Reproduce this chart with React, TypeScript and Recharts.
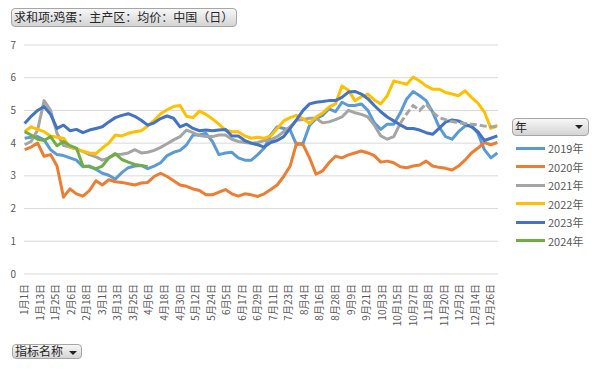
import React from "react";
import { LineChart, Line, XAxis, YAxis, CartesianGrid } from "recharts";

// day of year (0 = 1月1日), sampled every 5 days
const days = [
  0, 5, 10, 15, 20, 25, 30, 35, 40, 45,
  50, 55, 60, 65, 70, 75, 80, 85, 90, 95,
  100, 105, 110, 115, 120, 125, 130, 135, 140, 145,
  150, 155, 160, 165, 170, 175, 180, 185, 190, 195,
  200, 205, 210, 215, 220, 225, 230, 235, 240, 245,
  250, 255, 260, 265, 270, 275, 280, 285, 290, 295,
  300, 305, 310, 315, 320, 325, 330, 335, 340, 345,
  350, 355, 360, 365,
];

const tickDays = [
  0, 12, 24, 36, 48, 60, 72, 84, 96, 108, 120, 132, 144, 156, 168, 180,
  192, 204, 216, 228, 240, 252, 264, 276, 288, 300, 312, 324, 336, 348, 360,
];
const tickLabels = [
  "1月1日", "1月13日", "1月25日", "2月6日", "2月18日", "3月1日", "3月13日", "3月25日",
  "4月6日", "4月18日", "4月30日", "5月12日", "5月24日", "6月5日", "6月17日", "6月29日",
  "7月11日", "7月23日", "8月4日", "8月16日", "8月28日", "9月9日", "9月21日", "10月3日",
  "10月15日", "10月27日", "11月8日", "11月20日", "12月2日", "12月14日", "12月26日",
];
const yTicks = [0, 1, 2, 3, 4, 5, 6, 7];

const years = ["2019年", "2020年", "2021年", "2022年", "2023年", "2024年"];
const colors = ["#5B9BD5", "#ED7D31", "#A5A5A5", "#FFC000", "#4472C4", "#70AD47"];

const v2019 = [
  4.15, 4.18, 4.2, 4.1, 3.8, 3.65, 3.62, 3.55, 3.48, 3.28,
  3.3, 3.2, 3.08, 3.02, 2.9, 3.1, 3.25, 3.3, 3.32, 3.22,
  3.3, 3.4, 3.62, 3.72, 3.78, 3.95, 4.25, 4.25, 4.3, 4.05,
  3.65, 3.7, 3.72, 3.55, 3.48, 3.48, 3.65, 3.85, 4.25, 4.5,
  4.45, 4.4, 3.95, 4.0, 4.55, 4.75, 4.85, 5.05, 4.96, 5.25,
  5.15, 5.15, 5.2, 5.0, 4.62, 4.42, 4.58, 4.58, 4.92, 5.35,
  5.58, 5.45, 5.3, 4.95, 4.5, 4.2, 4.12, 4.35, 4.52, 4.55,
  4.3, 3.8, 3.55, 3.7,
];
const v2020 = [
  3.8, 3.88, 4.0, 3.6, 3.65, 3.3, 2.35, 2.6, 2.45, 2.38,
  2.55, 2.85, 2.72, 2.88, 2.82, 2.8, 2.76, 2.72, 2.78, 2.8,
  2.98, 3.08, 2.98, 2.85, 2.72, 2.68, 2.6, 2.55, 2.42, 2.42,
  2.5, 2.58, 2.45, 2.38, 2.45, 2.42, 2.37, 2.45, 2.58, 2.72,
  2.98, 3.3, 4.0, 3.95, 3.55, 3.05, 3.15, 3.4, 3.6, 3.55,
  3.64, 3.7, 3.76, 3.7, 3.62, 3.42, 3.45, 3.4, 3.28, 3.25,
  3.3, 3.33, 3.45, 3.3, 3.26, 3.23, 3.18, 3.3, 3.48, 3.7,
  3.85, 4.02, 3.95, 4.02,
];
const v2021 = [
  3.95, 4.05, 4.4, 5.3, 5.0, 4.3, 3.93, 3.88, 3.82, 3.75,
  3.65, 3.58, 3.48, 3.55, 3.65, 3.66, 3.7, 3.8, 3.7, 3.72,
  3.78, 3.87, 3.98, 4.1, 4.2, 4.4, 4.32, 4.23, 4.2, 4.2,
  4.25, 4.25, 4.12, 4.05, 4.02, 4.0, 4.02, 4.08, 4.1, 4.2,
  4.35, 4.5, 4.7, 4.72, 4.76, 4.76, 4.62, 4.65, 4.72, 4.8,
  5.0, 4.93, 4.88, 4.8, 4.55, 4.22, 4.12, 4.2, 4.6, 4.9,
  5.15, 5.0, 5.2, 4.95, 4.78, 4.72, 4.66, 4.62, 4.6, 4.58,
  4.56, 4.52, 4.5, 4.5,
];
const v2022 = [
  4.35, 4.5, 4.42, 4.35, 4.22, 4.18, 4.15, 3.88, 3.82, 3.75,
  3.7, 3.68, 3.85, 4.0, 4.25, 4.22, 4.3, 4.35, 4.38, 4.52,
  4.7, 4.9, 5.02, 5.12, 5.15, 4.82, 4.78, 4.98, 4.88, 4.74,
  4.58, 4.4, 4.35, 4.35, 4.22, 4.15, 4.18, 4.15, 4.22, 4.45,
  4.68, 4.78, 4.85, 4.75, 4.6, 4.8, 4.92, 5.1, 5.2, 5.75,
  5.62, 5.3, 5.42, 5.5, 5.32, 5.2, 5.45, 5.9, 5.85, 5.8,
  6.02, 5.9, 5.75, 5.65, 5.65, 5.55, 5.5, 5.45, 5.6, 5.4,
  5.22, 4.95, 4.45, 4.55,
];
const v2023 = [
  4.6, 4.82, 5.0, 5.12, 4.88, 4.45, 4.55, 4.38, 4.42, 4.32,
  4.4, 4.45, 4.5, 4.65, 4.78, 4.85, 4.9, 4.82, 4.7, 4.55,
  4.62, 4.75, 4.83, 4.76, 4.5, 4.58, 4.45, 4.38, 4.4, 4.38,
  4.4, 4.42, 4.22, 4.22, 4.08, 4.0, 3.95, 3.88, 4.02, 4.08,
  4.2, 4.45, 4.72, 5.0, 5.2, 5.25, 5.27, 5.3, 5.3, 5.4,
  5.56, 5.58, 5.5, 5.36, 5.15, 4.96, 4.8, 4.68, 4.56, 4.45,
  4.45, 4.4, 4.32, 4.27, 4.45, 4.64, 4.71, 4.68, 4.58, 4.5,
  4.35, 4.08, 4.15, 4.22,
];
const v2024 = [
  4.35, 4.25, 4.12, 4.08, 4.2, 3.92, 4.05, 3.92, 3.85, 3.3,
  3.28, 3.22, 3.3, 3.55, 3.68, 3.5, 3.42, 3.35, 3.32, 3.28,
];

// 2021 turns dashed in the last quarter (gaps in the source data)
const dashFrom = 290;

const data = days.map((d, i) => ({
  day: d,
  y2019: v2019[i],
  y2020: v2020[i],
  y2021: d <= dashFrom ? v2021[i] : null,
  y2021d: d >= dashFrom ? v2021[i] : null,
  y2022: v2022[i],
  y2023: v2023[i],
  y2024: i < v2024.length ? v2024[i] : null,
}));

const seriesKeys = ["y2019", "y2020", "y2021", "y2022", "y2023", "y2024"];

const XTick = ({ x, y, payload }: any) => (
  <text
    transform={`translate(${x},${y + 2}) rotate(-90)`}
    textAnchor="end"
    dy="0.35em"
    fontSize={10}
    fill="#595959"
  >
    {tickLabels[tickDays.indexOf(payload.value)]}
  </text>
);

const btn: React.CSSProperties = {
  position: "absolute",
  boxSizing: "border-box",
  background: "linear-gradient(#f7f7f7, #d4d4d4)",
  border: "1px solid #a6a6a6",
  borderRadius: 4,
  color: "#262626",
  fontSize: 12,
  lineHeight: "16px",
  paddingLeft: 2,
  whiteSpace: "nowrap",
};

const Arrow = ({ right }: { right: number }) => (
  <span
    style={{
      position: "absolute",
      right,
      top: 6,
      width: 0,
      height: 0,
      borderLeft: "4px solid transparent",
      borderRight: "4px solid transparent",
      borderTop: "4px solid #222",
    }}
  />
);

export default function App() {
  return (
    <div
      style={{
        position: "absolute",
        left: 0,
        top: 0,
        width: 596,
        height: 369,
        background: "#fff",
        fontFamily: '"Noto Sans CJK SC", "Noto Sans", sans-serif',
      }}
    >
      <LineChart
        width={596}
        height={369}
        data={data}
        margin={{ top: 45, right: 98, bottom: 0, left: 0 }}
      >
        <CartesianGrid vertical={false} stroke="#D9D9D9" />
        <XAxis
          dataKey="day"
          type="number"
          domain={[-0.5, 365.5]}
          ticks={tickDays}
          interval={0}
          tick={(p: any) => <XTick {...p} />}
          tickLine={false}
          axisLine={false}
          height={95}
        />
        <YAxis
          type="number"
          domain={[0, 7]}
          ticks={yTicks}
          width={24}
          tickLine={false}
          axisLine={false}
          tick={{ fontSize: 10, fill: "#595959" }}
        />
        {seriesKeys.map((k, i) => (
          <Line
            key={k}
            dataKey={k}
            stroke={colors[i]}
            strokeWidth={3}
            dot={false}
            type="linear"
            isAnimationActive={false}
            strokeLinejoin="round"
          />
        ))}
        <Line
          dataKey="y2021d"
          stroke={colors[2]}
          strokeWidth={3}
          strokeDasharray="7 3"
          dot={false}
          type="linear"
          isAnimationActive={false}
        />
      </LineChart>

      <div style={{ ...btn, left: 11, top: 8, width: 226, height: 19 }}>
        求和项:鸡蛋：主产区：均价：中国（日）
      </div>

      <div style={{ ...btn, left: 512, top: 118, width: 77, height: 18 }}>
        年
        <Arrow right={5} />
      </div>

      {years.map((name, i) => (
        <div
          key={name}
          style={{
            position: "absolute",
            left: 516,
            top: 139 + i * 18.5,
            height: 18,
            display: "flex",
            alignItems: "center",
            fontSize: 11,
            color: "#595959",
          }}
        >
          <span style={{ width: 29, height: 3, background: colors[i], marginRight: 3 }} />
          {name}
        </div>
      ))}

      <div style={{ ...btn, left: 12, top: 344, width: 70, height: 15 }}>
        <span style={{ position: "relative", top: -2 }}>指标名称</span>
        <Arrow right={4} />
      </div>
    </div>
  );
}
